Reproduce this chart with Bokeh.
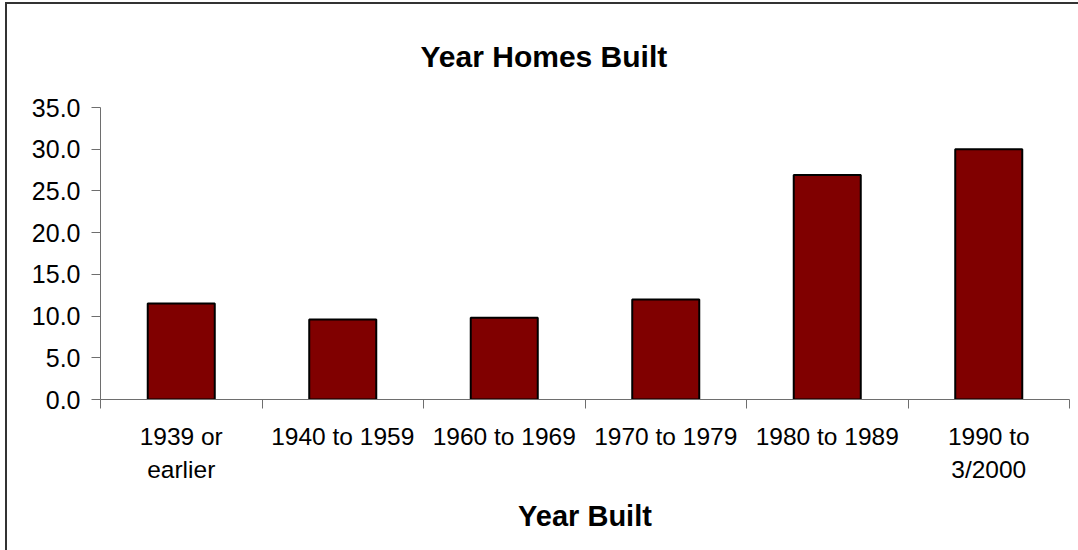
from bokeh.plotting import figure
from bokeh.models import (Range1d, LinearAxis, FixedTicker, ColumnDataSource,
                          CustomJSTickFormatter, InlineStyleSheet)
from bokeh.embed import file_html
from bokeh.resources import INLINE

categories = ["1939 or\nearlier", "1940 to 1959", "1960 to 1969",
              "1970 to 1979", "1980 to 1989", "1990 to\n3/2000"]
values = [11.5, 9.6, 9.8, 12.0, 26.9, 30.0]
y_ticks = [0, 5, 10, 15, 20, 25, 30, 35]
title_text = "Year Homes Built"
x_title = "Year Built"

W, H = 1078, 550
FONT = "Liberation Sans"
AXIS_COLOR = "#6e6e6e"

n = len(categories)
centers = [i + 0.5 for i in range(n)]
bounds = list(range(n + 1))

p = figure(width=W, height=H, x_range=Range1d(0, n), y_range=Range1d(0, 35),
           x_axis_type=None, y_axis_type=None,
           output_backend="svg", toolbar_location=None,
           min_border_left=100, min_border_right=9, min_border_top=107, min_border_bottom=151)
p.outline_line_color = None
p.xgrid.visible = False
p.ygrid.visible = False
p.background_fill_color = "white"
p.border_fill_color = "white"

# chart title
p.title.text = title_text
p.title.align = "left"
p.title.offset = 320
p.title.standoff = 70
p.title.text_font = FONT
p.title.text_font_size = "30px"
p.title.text_font_style = "bold"
p.title.text_color = "black"

src = ColumnDataSource(data=dict(x=centers, val=values, cat=categories))
p.vbar(x="x", top="val", width=0.415, source=src, fill_color="#800000",
       line_color="black", line_width=2)

# y axis
yax = LinearAxis(ticker=FixedTicker(ticks=y_ticks))
yax.formatter = CustomJSTickFormatter(code="return tick.toFixed(1);")
yax.axis_line_color = AXIS_COLOR
yax.major_tick_line_color = AXIS_COLOR
yax.major_tick_out = 9
yax.major_tick_in = 0
yax.minor_tick_line_color = None
yax.major_label_standoff = 11
yax.major_label_text_font = FONT
yax.major_label_text_font_size = "25px"
yax.major_label_text_color = "black"
p.add_layout(yax, "left")

# x axis boundary ticks
xtick_ax = LinearAxis(ticker=FixedTicker(ticks=bounds))
xtick_ax.axis_line_color = AXIS_COLOR
xtick_ax.major_tick_line_color = AXIS_COLOR
xtick_ax.major_tick_out = 9
xtick_ax.major_tick_in = 0
xtick_ax.minor_tick_line_color = None
xtick_ax.major_label_text_font_size = "0px"
xtick_ax.major_label_standoff = 0
p.add_layout(xtick_ax, "below")

# category labels axis
xcat = LinearAxis(ticker=FixedTicker(ticks=centers))
xcat.major_label_overrides = {c: lab for c, lab in zip(centers, categories)}
xcat.axis_line_color = None
xcat.major_tick_line_color = None
xcat.minor_tick_line_color = None
xcat.major_tick_out = 0
xcat.major_tick_in = 0
xcat.major_label_standoff = 14
xcat.major_label_text_font = FONT
xcat.major_label_text_font_size = "24.5px"
xcat.major_label_text_color = "black"
xcat.major_label_text_line_height = 1.25
xcat.axis_label = x_title
xcat.axis_label_text_font = FONT
xcat.axis_label_text_font_size = "29px"
xcat.axis_label_text_font_style = "bold"
xcat.axis_label_text_color = "black"
xcat.axis_label_standoff = 14
p.add_layout(xcat, "below")

# chart border (top and left edges visible; right/bottom lie outside the picture)
p.stylesheets = [InlineStyleSheet(css="""
:host { position: relative; }
:host::after {
  content: ""; position: absolute; left: 5px; top: 2px; right: 0px; bottom: 0px;
  border-style: solid; border-color: #333333; border-width: 2px 0 0 2px;
  pointer-events: none; z-index: 100;
}
""")]

open("out.html", "w").write(file_html(p, INLINE))
